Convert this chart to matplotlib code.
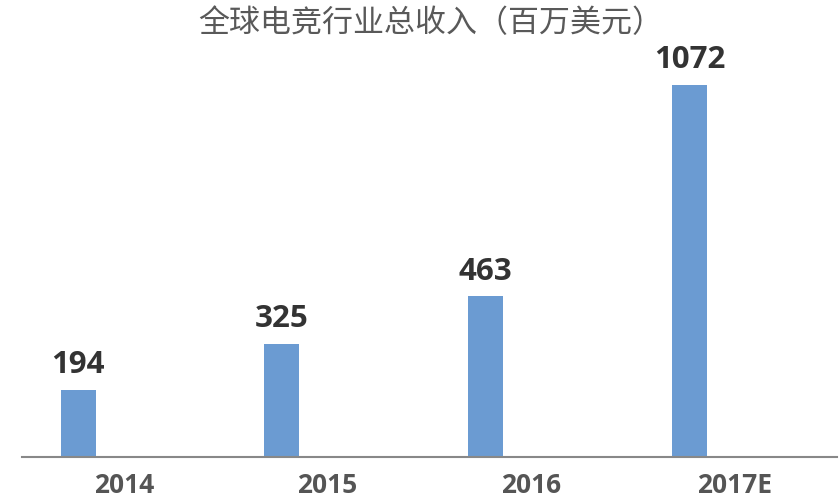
import matplotlib
matplotlib.use("Agg")
import matplotlib.pyplot as plt
import numpy as np

plt.rcParams['font.family'] = ['Open Sans', 'Noto Sans CJK SC', 'DejaVu Sans']

# data
years = ["2014", "2015", "2016", "2017E"]
revenue = [194, 325, 463, 1072]
title = "全球电竞行业总收入（百万美元）"

bar_color = "#6B9BD2"
x = np.arange(len(years))

fig = plt.figure(figsize=(8.4, 5.0), dpi=100)
ax = fig.add_axes([0.026, 0.086, 0.970, 0.794])

bars = ax.bar(x - 0.223, revenue, width=0.172, color=bar_color)
for b, v in zip(bars, revenue):
    ax.annotate(str(v), (b.get_x() + b.get_width() / 2, v),
                xytext=(0, 7), textcoords="offset points",
                ha="center", va="bottom", fontsize=22.5, fontweight="bold",
                color="#333333")

ax.set_xlim(-0.5, 3.5)
ax.set_ylim(0, 1144)
ax.set_xticks(x)
ax.set_xticklabels(years, fontsize=19, fontweight="bold", color="#555555")
ax.tick_params(axis="x", length=0, pad=11)
ax.set_yticks([])

for side in ["top", "right", "left"]:
    ax.spines[side].set_visible(False)
ax.spines["bottom"].set_color("#888888")
ax.spines["bottom"].set_linewidth(1.5)

fig.text(0.513, 0.952, title, ha="center", va="center", fontsize=22.3,
         color="#595959", family=['Noto Sans CJK SC', 'DejaVu Sans'])

fig.savefig("out.png", dpi=100, facecolor="white")
